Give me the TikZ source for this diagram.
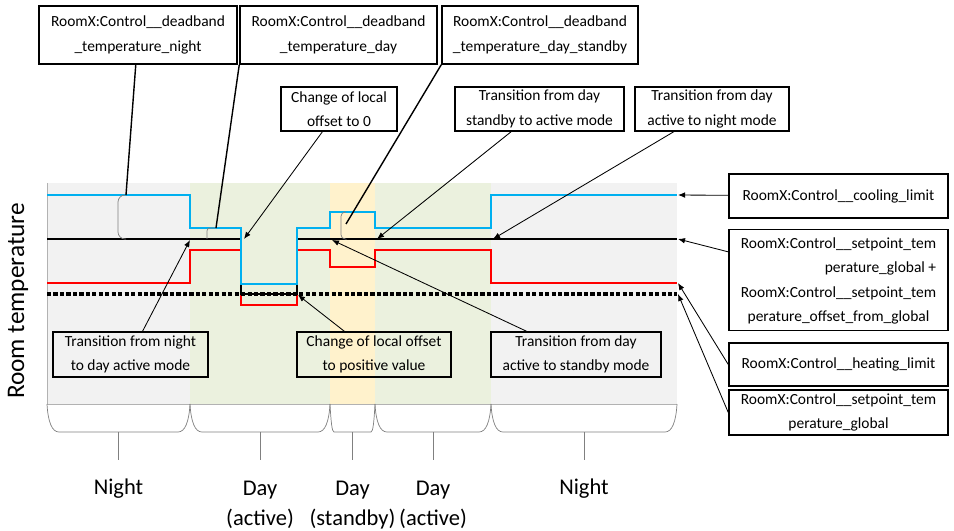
\documentclass[tikz,border=0pt]{standalone}
\usepackage{fontspec}
\setmainfont{Carlito}
\usetikzlibrary{arrows.meta}
\definecolor{coolblue}{HTML}{00B0F0}
\definecolor{heatred}{HTML}{FF0000}
\definecolor{nightgray}{HTML}{F2F2F2}
\definecolor{daygreen}{HTML}{EBF1DE}
\definecolor{standbyorange}{HTML}{FFF2CC}

\begin{document}
\begin{tikzpicture}[x=0.025cm, y=-0.025cm,
    callout/.style={draw, line width=1pt, align=center, inner sep=1pt, font=\fontsize{11}{17.5}\selectfont},
    deadline/.style={line width=1pt},
    pointer/.style={line width=0.6pt, -{Latex[length=5pt,width=4pt]}},
    bandbrace/.style={gray, line width=0.5pt},
    zonebrace/.style={gray, line width=0.5pt},
    zonelabel/.style={anchor=north, inner sep=0pt, align=center, font=\fontsize{16}{21.5}\selectfont}]
        \useasboundingbox (0,0) rectangle (954,531);

        %% zone borders
        \def\Zi{47}
        \def\Zii{190}
        \def\Ziii{330}
        \def\Ziv{375}
        \def\Zv{491}
        \def\Zvi{677}
        \def\Ti{241}
        \def\Tii{297}
        \def\Top{183}
        \def\Bot{404}

        %% levels
        \def\Ci{195}
        \def\Cii{228}
        \def\Ciii{212}
        \def\Civ{284}
        \def\Si{239}
        \def\Gi{294}
        \def\Hi{283}
        \def\Hii{250}
        \def\Hiii{267}
        \def\Hiv{305}

        %% backgrounds
        \fill[nightgray] (\Zi,\Top) rectangle (\Zii,\Bot);
        \fill[daygreen] (\Zii,\Top) rectangle (\Ziii,\Bot);
        \fill[standbyorange] (\Ziii,\Top) rectangle (\Ziv,\Bot);
        \fill[daygreen] (\Ziv,\Top) rectangle (\Zv,\Bot);
        \fill[nightgray] (\Zv,\Top) rectangle (\Zvi,\Bot);
        \draw[gray!60, line width=0.5pt] (\Zi,\Top) -- (\Zi,\Bot) -- (\Zvi,\Bot);

        %% heating limit, setpoint, global setpoint, cooling limit
        \draw[heatred, line width=2pt] (\Zi,\Hi) -- (\Zii,\Hi) -- (\Zii,\Hii) -- (\Ti,\Hii) -- (\Ti,\Hiv) -- (\Tii,\Hiv) -- (\Tii,\Hii)
            -- (\Ziii,\Hii) -- (\Ziii,\Hiii) -- (\Ziv,\Hiii) -- (\Ziv,\Hii) -- (\Zv,\Hii) -- (\Zv,\Hi) -- (\Zvi,\Hi);
        \draw[line width=1.7pt] (\Zi,\Si) -- (\Ti,\Si) -- (\Ti,\Gi) -- (\Tii,\Gi) -- (\Tii,\Si) -- (\Zvi,\Si);
        \draw[line width=2.4pt, dash pattern=on 3pt off 1.6pt] (\Zi,\Gi) -- (\Zvi,\Gi);
        \draw[coolblue, line width=2pt] (\Zi,\Ci) -- (\Zii,\Ci) -- (\Zii,\Cii) -- (\Ti,\Cii) -- (\Ti,\Civ) -- (\Tii,\Civ) -- (\Tii,\Cii)
            -- (\Ziii,\Cii) -- (\Ziii,\Ciii) -- (\Ziv,\Ciii) -- (\Ziv,\Cii) -- (\Zv,\Cii) -- (\Zv,\Ci) -- (\Zvi,\Ci);

        %% deadband brackets
        \draw[bandbrace, rounded corners=5pt] (126,\Ci) -- (118,\Ci) -- (118,\Si) -- (126,\Si);
        \draw[bandbrace, rounded corners=2pt] (216,\Cii) -- (207,\Cii) -- (207,\Si);
        \draw[bandbrace, rounded corners=3pt] (346,\Ciii) -- (341,\Ciii) -- (341,\Si) -- (345,\Si);

        %% zone braces
        \draw[zonebrace] (\Zi,\Bot) .. controls (\Zi+1,422) and (\Zi+5,432) .. (\Zi+12,432) -- (\Zii-12,432) .. controls (\Zii-5,432) and (\Zii-1,422) .. (\Zii,\Bot);
        \draw[zonebrace] (\Zii,\Bot) .. controls (\Zii+1,422) and (\Zii+5,432) .. (\Zii+12,432) -- (\Ziii-12,432) .. controls (\Ziii-5,432) and (\Ziii-1,422) .. (\Ziii,\Bot);
        \draw[zonebrace] (\Ziii,\Bot) .. controls (\Ziii+1,422) and (\Ziii+2,432) .. (\Ziii+4,432) -- (\Ziv-4,432) .. controls (\Ziv-2,432) and (\Ziv-1,422) .. (\Ziv,\Bot);
        \draw[zonebrace] (\Ziv,\Bot) .. controls (\Ziv+1,422) and (\Ziv+5,432) .. (\Ziv+12,432) -- (\Zv-12,432) .. controls (\Zv-5,432) and (\Zv-1,422) .. (\Zv,\Bot);
        \draw[zonebrace] (\Zv,\Bot) .. controls (\Zv+1,422) and (\Zv+5,432) .. (\Zv+12,432) -- (\Zvi-12,432) .. controls (\Zvi-5,432) and (\Zvi-1,422) .. (\Zvi,\Bot);
        \draw[zonebrace] (118.5,432) -- (118.5,460);
        \draw[zonebrace] (260,432) -- (260,460);
        \draw[zonebrace] (352.5,432) -- (352.5,460);
        \draw[zonebrace] (433,432) -- (433,460);
        \draw[zonebrace] (584,432) -- (584,460);

        %% zone labels
        \node[zonelabel] (zoneNightA) at (118.5,479) {Night};
        \node[zonelabel] (zoneDayA) at (260,481) {Day\\(active)};
        \node[zonelabel] (zoneStandby) at (352.5,481) {Day\\(standby)};
        \node[zonelabel] (zoneDayB) at (433,481) {Day\\(active)};
        \node[zonelabel] (zoneNightB) at (584,479) {Night};
        \node[rotate=90, anchor=base, font=\fontsize{18}{18}\selectfont] (axisLabel) at (24,301) {Room temperature};

        %% end points
        \coordinate (dbNightEnd) at (126,\Ci);
        \coordinate (dbDayEnd) at (216,\Cii);
        \coordinate (dbStandbyEnd) at (346,224);
        \coordinate (offZeroEnd) at (244,\Si);
        \coordinate (standbyActiveEnd) at (377,\Si);
        \coordinate (activeNightEnd) at (493,\Si);
        \coordinate (nightDayEnd) at (190,240);
        \coordinate (offPosEnd) at (298,295);
        \coordinate (activeStandbyEnd) at (332,240);
        \coordinate (coolEnd) at (678,\Ci);
        \coordinate (setEnd) at (678,\Si);
        \coordinate (heatEnd) at (678,\Hi);
        \coordinate (globalEnd) at (678,\Gi);

        %% callouts above
        \node[callout, minimum width=4.95cm, minimum height=1.45cm] (dbNight) at (138,35) {RoomX:Control\_\_deadband\\\_temperature\_night};
        \node[callout, minimum width=4.925cm, minimum height=1.45cm] (dbDay) at (338.5,35) {RoomX:Control\_\_deadband\\\_temperature\_day};
        \node[callout, minimum width=4.9cm, minimum height=1.45cm] (dbStandby) at (540,35) {RoomX:Control\_\_deadband\\\_temperature\_day\_standby};
        \node[callout, minimum width=2.9cm, minimum height=1.1cm] (offZero) at (339,109) {Change of local\\offset to 0};
        \node[callout, minimum width=4.225cm, minimum height=1.1cm] (standbyActive) at (539.5,109) {Transition from day\\standby to active mode};
        \node[callout, minimum width=3.85cm, minimum height=1.1cm] (activeNight) at (712,109) {Transition from day\\active to night mode};

        %% callouts below
        \node[callout, minimum width=3.875cm, minimum height=1.125cm] (nightDay) at (130.5,354.5) {Transition from night\\to day active mode};
        \node[callout, minimum width=3.85cm, minimum height=1.125cm] (offPos) at (374,354.5) {Change of local offset\\to positive value};
        \node[callout, minimum width=4.25cm, minimum height=1.125cm] (activeStandby) at (576,354.5) {Transition from day\\active to standby mode};

        %% callouts right
        \node[callout, minimum width=5.475cm, minimum height=1.1cm] (lblCool) at (838.5,196) {RoomX:Control\_\_cooling\_limit};
        \node[callout, minimum width=5.475cm, minimum height=2.45cm] (lblSet) at (838.5,280) {\begin{tabular}{@{}c@{}}RoomX:Control\_\_setpoint\_tem\\ \multicolumn{1}{@{}r@{}}{perature\_global +}\\ RoomX:Control\_\_setpoint\_tem\\ perature\_offset\_from\_global\end{tabular}};
        \node[callout, minimum width=5.475cm, minimum height=1.075cm] (lblHeat) at (838.5,364.5) {RoomX:Control\_\_heating\_limit};
        \node[callout, minimum width=5.475cm, minimum height=1.125cm] (lblGlobal) at (838.5,412.5) {RoomX:Control\_\_setpoint\_tem\\perature\_global};

        %% connectors
        \draw[deadline] (dbNight) -- (dbNightEnd);
        \draw[deadline] (dbDay.south west) -- (dbDayEnd);
        \draw[deadline] (dbStandby.south west) -- (dbStandbyEnd);
        \draw[pointer] (offZero) -- (offZeroEnd);
        \draw[pointer] (standbyActive) -- (standbyActiveEnd);
        \draw[pointer] (activeNight) -- (activeNightEnd);
        \draw[pointer] (nightDay) -- (nightDayEnd);
        \draw[pointer] (offPos) -- (offPosEnd);
        \draw[pointer] (activeStandby) -- (activeStandbyEnd);
        \draw[pointer] (lblCool) -- (coolEnd);
        \draw[pointer] (lblSet) -- (setEnd);
        \draw[pointer] (lblHeat.west) -- (heatEnd);
        \draw[pointer] (lblGlobal.west) -- (globalEnd);
    \end{tikzpicture}
\end{document}
